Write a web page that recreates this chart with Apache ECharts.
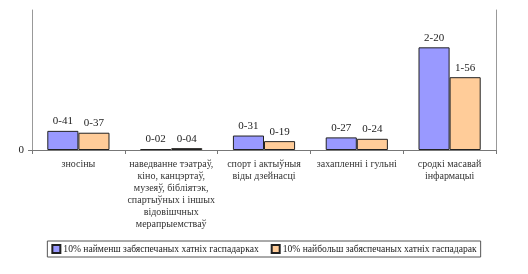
<!DOCTYPE html>
<html>
<head>
<meta charset="utf-8">
<script src="https://cdn.jsdelivr.net/npm/echarts@6/dist/echarts.min.js"></script>
<style>
  html, body { margin: 0; padding: 0; background: #fff; }
  #chart { width: 528px; height: 274px; }
</style>
</head>
<body>
<div id="chart"></div>
<script>
// катэгорыі (з пераносамі радкоў як на малюнку)
const categories = [
  'зносіны',
  'наведванне тэатраў,\nкіно, канцэртаў,\nмузеяў, бібліятэк,\nспартыўных і іншых\nвідовішчных\nмерапрыемстваў',
  'спорт і актыўныя\nвіды дзейнасці',
  'захапленні і гульні',
  'сродкі масавай\nінфармацыі'
]
const seriesNames = [
  '10% найменш забяспечаных хатніх гаспадарках',
  '10% найбольш забяспечаных хатніх гаспадарак'
]
const poorest = [0.41, 0.02, 0.31, 0.27, 2.20]
const richest = [0.37, 0.04, 0.19, 0.24, 1.56]

const font = 'Liberation Serif'

let chart = echarts.init(document.getElementById('chart'))

const labelOpt = {
  show: true,
  position: 'top',
  distance: 4,
  fontFamily: font,
  fontSize: 11,
  color: '#222',
  formatter(p) {
    return p.value.toFixed(2).replace('.', '-')
  }
}

chart.setOption({
  animation: false,
  textStyle: { fontFamily: font },
  grid: { left: 32, right: 32, top: 10, bottom: 124 },
  legend: {
    bottom: 17,
    left: 'center',
    itemWidth: 8,
    itemHeight: 8,
    itemGap: 12,
    padding: [3, 4, 3, 4],
    borderColor: '#555',
    borderWidth: 1,
    icon: 'rect',
    textStyle: { fontFamily: font, fontSize: 9.6, color: '#222', padding: [0, 0, 0, -2] }
  },
  xAxis: {
    type: 'category',
    data: categories,
    axisLine: { lineStyle: { color: '#777' } },
    axisTick: { show: true, length: 4, lineStyle: { color: '#777' } },
    axisLabel: {
      interval: 0,
      fontFamily: font,
      fontSize: 10,
      lineHeight: 12,
      color: '#333',
      margin: 8,
      align: 'center'
    }
  },
  yAxis: [
    {
      type: 'value',
      min: 0,
      max: 3,
      interval: 3,
      splitLine: { show: false },
      axisLine: { show: true, lineStyle: { color: '#999' } },
      axisTick: { show: true, length: 4, customValues: [0], lineStyle: { color: '#777' } },
      axisLabel: { customValues: [0], fontFamily: font, fontSize: 11, color: '#222', margin: 8 }
    },
    {
      type: 'value',
      min: 0,
      max: 3,
      position: 'right',
      splitLine: { show: false },
      axisLine: { show: true, lineStyle: { color: '#999' } },
      axisTick: { show: false },
      axisLabel: { show: false }
    }
  ],
  series: [
    {
      name: seriesNames[0],
      type: 'bar',
      data: poorest,
      barGap: '0%',
      barCategoryGap: '33%',
      itemStyle: { color: '#9999FF', borderColor: '#222', borderWidth: 1 },
      label: labelOpt
    },
    {
      name: seriesNames[1],
      type: 'bar',
      data: richest,
      barGap: '0%',
      barCategoryGap: '33%',
      itemStyle: { color: '#FFCC99', borderColor: '#222', borderWidth: 1 },
      label: labelOpt
    }
  ]
})
</script>
</body>
</html>
